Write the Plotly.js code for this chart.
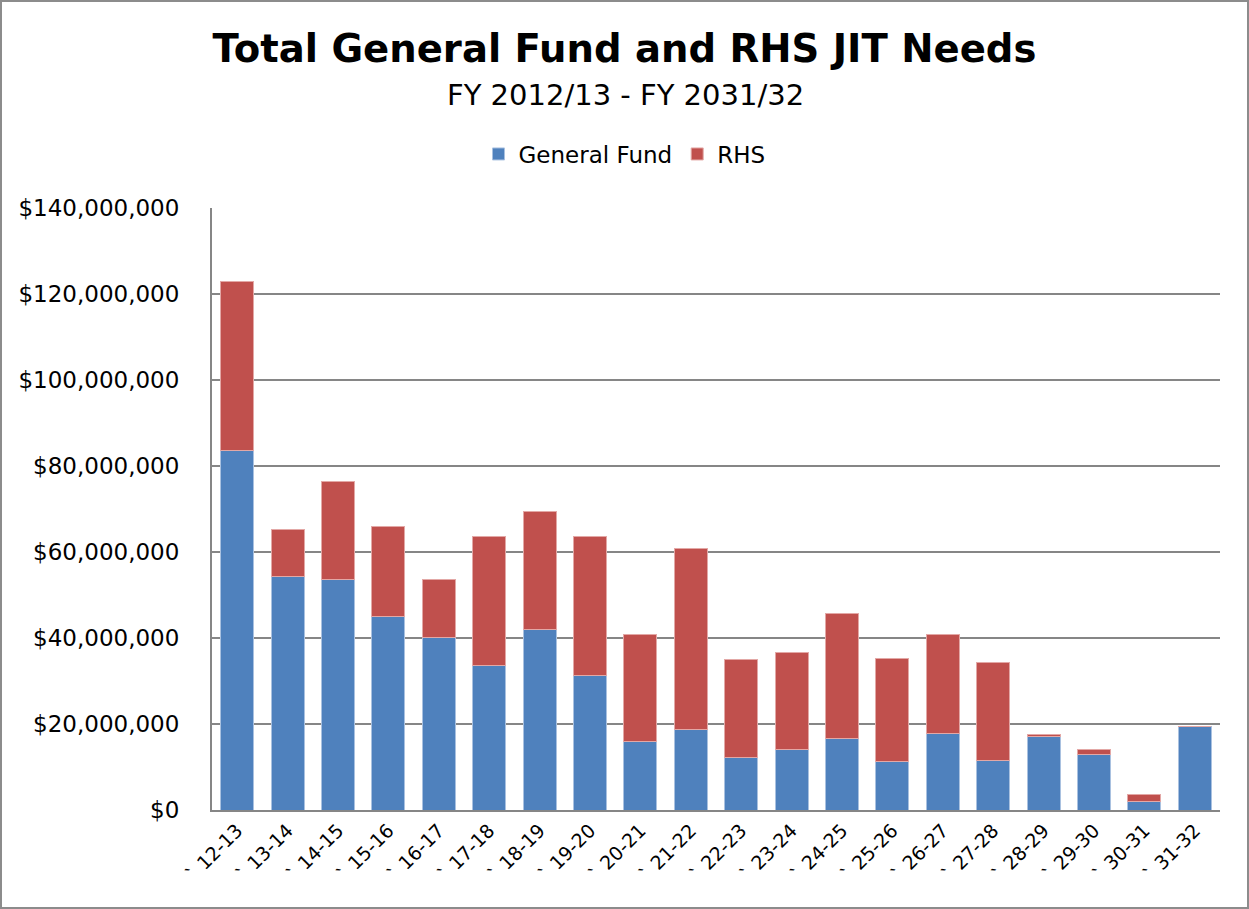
<!DOCTYPE html>
<html>
<head>
<meta charset="utf-8">
<script src="https://cdn.plot.ly/plotly-3.0.1.min.js"></script>
<style>
  html, body { margin: 0; padding: 0; background: #fff; }
  #wrap { position: relative; width: 1249px; height: 909px; }
  #chart { width: 1249px; height: 909px; }
  #frame { position: absolute; left: 0; top: 0; width: 1249px; height: 909px; box-sizing: border-box; border: 2px solid #8c8c8c; pointer-events: none; }
</style>
</head>
<body>
<div id="wrap">
  <div id="chart"></div>
  <div id="frame"></div>
</div>
<script>
const categories = ["` 12-13","` 13-14","` 14-15","` 15-16","` 16-17","` 17-18","` 18-19","` 19-20","` 20-21","` 21-22",
                    "` 22-23","` 23-24","` 24-25","` 25-26","` 26-27","` 27-28","` 28-29","` 29-30","` 30-31","` 31-32"];
const generalFund = [83.5, 54.2, 53.5, 44.9, 40.2, 33.5, 41.9, 31.2, 16.0, 18.8,
                     12.3, 14.0, 16.7, 11.2, 17.9, 11.6, 17.2, 12.8, 1.9, 19.5].map(v => v * 1e6);
const rhs = [39.3, 11.1, 22.8, 21.1, 13.5, 30.2, 27.6, 32.5, 24.7, 42.1,
             22.6, 22.7, 28.9, 24.1, 22.8, 22.6, 0.3, 1.2, 1.8, 0].map(v => v * 1e6);
const yTickVals = [0, 20e6, 40e6, 60e6, 80e6, 100e6, 120e6, 140e6];
const yTickText = ["$0","$20,000,000","$40,000,000","$60,000,000","$80,000,000","$100,000,000","$120,000,000","$140,000,000"];

const FONT = "DejaVu Sans, Verdana, sans-serif";

const traces = [
  { type: "bar", name: "General Fund", x: categories, y: generalFund,
    marker: { color: "#4F81BD", line: { color: "#a9c1e0", width: 1 } } },
  { type: "bar", name: "RHS", x: categories, y: rhs,
    marker: { color: "#C0504D", line: { color: "#e3a8a6", width: 1 } } }
];

const layout = {
  width: 1249, height: 909,
  barmode: "stack",
  bargap: 0.345,
  paper_bgcolor: "#ffffff",
  plot_bgcolor: "#ffffff",
  margin: { l: 212, r: 29, t: 208, b: 99 },
  font: { family: FONT, color: "#000" },
  title: { text: "<b>Total General Fund and RHS JIT Needs</b>", font: { family: FONT, size: 38.6, color: "#000" },
           x: 0.5, xanchor: "center", xref: "container", y: 1 - 48/909, yanchor: "middle", yref: "container" },
  annotations: [{
    text: "FY 2012/13 - FY 2031/32", showarrow: false,
    xref: "paper", yref: "paper", x: (625 - 212) / 1008, y: (810 - 95) / 602,
    xanchor: "center", yanchor: "middle", font: { family: FONT, size: 29, color: "#000" }
  }],
  showlegend: true,
  legend: { orientation: "h", xref: "container", yref: "container", x: 0.5, xanchor: "center",
            y: 1 - 154/909, yanchor: "middle", font: { family: FONT, size: 23, color: "#000" },
            traceorder: "normal", itemwidth: 30 },
  xaxis: { type: "category", tickangle: -45, tickfont: { family: FONT, size: 19, color: "#000" },
           showline: true, linecolor: "#868686", linewidth: 2, ticks: "", showgrid: false, fixedrange: true },
  yaxis: { range: [0, 140e6], tickvals: yTickVals, ticktext: yTickText,
           tickfont: { family: FONT, size: 23, color: "#000" },
           showline: true, linecolor: "#868686", linewidth: 2,
           showgrid: true, gridcolor: "#868686", gridwidth: 2,
           ticks: "", ticklabelstandoff: 26, zeroline: false, fixedrange: true }
};

Plotly.newPlot("chart", traces, layout, { displayModeBar: false, staticPlot: true });
</script>
</body>
</html>
